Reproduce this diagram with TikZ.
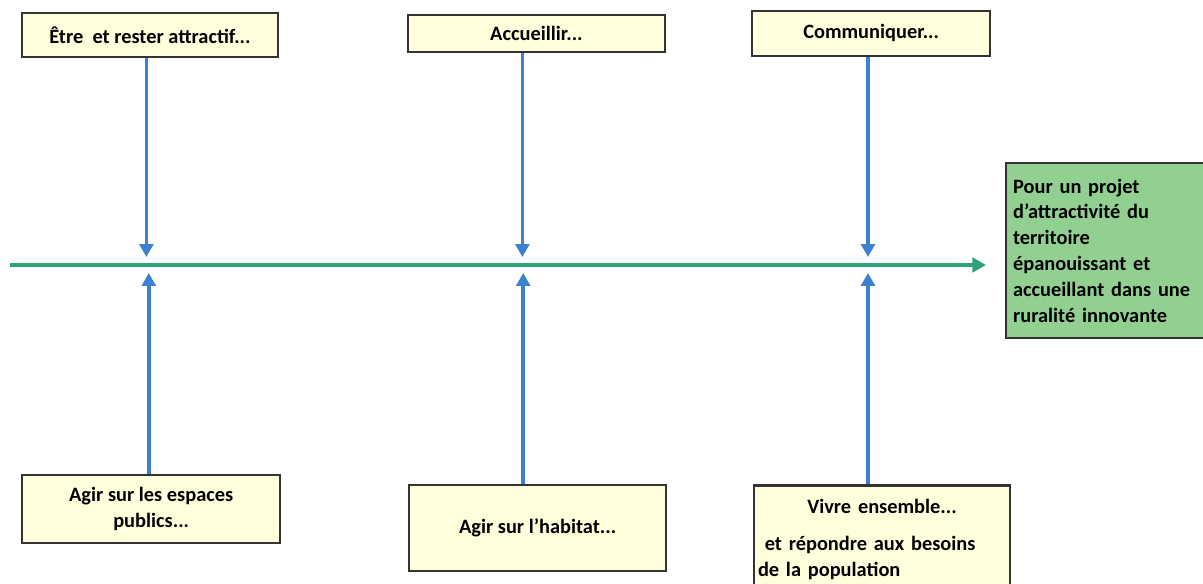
\documentclass[tikz,border=0pt]{standalone}
\usepackage{fontspec}
\setmainfont{Carlito}
\usetikzlibrary{arrows.meta,positioning,calc}
\definecolor{boxfill}{HTML}{FFFFDC}
\definecolor{goalfill}{HTML}{92D092}
\definecolor{feedblue}{HTML}{3A82D0}
\definecolor{spinegreen}{HTML}{2EA27A}
\definecolor{edge}{HTML}{333333}

\begin{document}
\begin{tikzpicture}[
  box/.style={draw=edge, line width=1.8pt, fill=boxfill, inner sep=3pt, font=\fontsize{14.5}{18}\selectfont\bfseries},
  goal/.style={draw=edge, line width=1.8pt, fill=goalfill, inner sep=5pt, font=\fontsize{14.5}{18.4}\selectfont\bfseries},
  feed/.style={line width=2.6pt, feedblue, -{Triangle[length=3.2mm,width=3.4mm]}},
  spine/.style={line width=2.8pt, spinegreen, -{Triangle[length=3.4mm,width=3.6mm]}}
]
  \useasboundingbox (0,0) rectangle (30.075,14.575);
  % causes above the spine
  \node[box, minimum width=6.4cm, minimum height=1.1cm] (attract) at (3.75,13.7) {Être\ \ et rester attractif...};
  \node[box, minimum width=6.43cm, minimum height=0.93cm] (accueil) at (13.41,13.74) {Accueillir...};
  \node[box, minimum width=5.95cm, minimum height=1.13cm] (commun) at (21.78,13.74) {Communiquer...};
  % causes below the spine
  \node[box, minimum width=6.45cm, minimum height=1.7cm, align=center] (espaces) at (3.78,1.85) {Agir sur les espaces\\publics...};
  \node[box, minimum width=6.43cm, minimum height=2.15cm] (habitat) at (13.44,1.375) {Agir sur l’habitat...};
  \node[box, minimum width=6.4cm, minimum height=2.7cm, text width=6.2cm, align=left, anchor=north, inner sep=2pt, font=\fontsize{14.5}{18.4}\selectfont\bfseries] (ensemble) at (22.05,2.475)
    {\makebox[\linewidth]{Vivre ensemble...}\\[8pt] \ et répondre aux besoins\\de la population};
  % effect
  \node[goal, minimum width=4.95cm, minimum height=4.38cm, text width=4.6cm, align=left, anchor=west] (projet) at (25.12,8.31)
    {Pour un projet\\d’attractivité du\\territoire\\épanouissant et\\accueillant dans une\\ruralité innovante};
  % spine
  \coordinate (tail) at (0.25,7.95);
  \coordinate (head) at (24.65,7.95);
  \coordinate (ax1) at (3.66,7.95);
  \coordinate (ax2) at (13.06,7.95);
  \coordinate (ax3) at (21.7,7.95);
  \draw[spine] (tail) -- (head);
  \draw[feed] (ax1 |- attract.south) -- ([yshift=2mm]ax1);
  \draw[feed] (ax2 |- accueil.south) -- ([yshift=2mm]ax2);
  \draw[feed] (ax3 |- commun.south) -- ([yshift=2mm]ax3);
  \draw[feed] ([xshift=0.06cm]ax1 |- espaces.north) -- ([xshift=0.06cm,yshift=-2mm]ax1);
  \draw[feed] ([xshift=0.02cm]ax2 |- habitat.north) -- ([xshift=0.02cm,yshift=-2mm]ax2);
  \draw[feed] (ax3 |- ensemble.north) -- ([yshift=-2mm]ax3);
\end{tikzpicture}
\end{document}
